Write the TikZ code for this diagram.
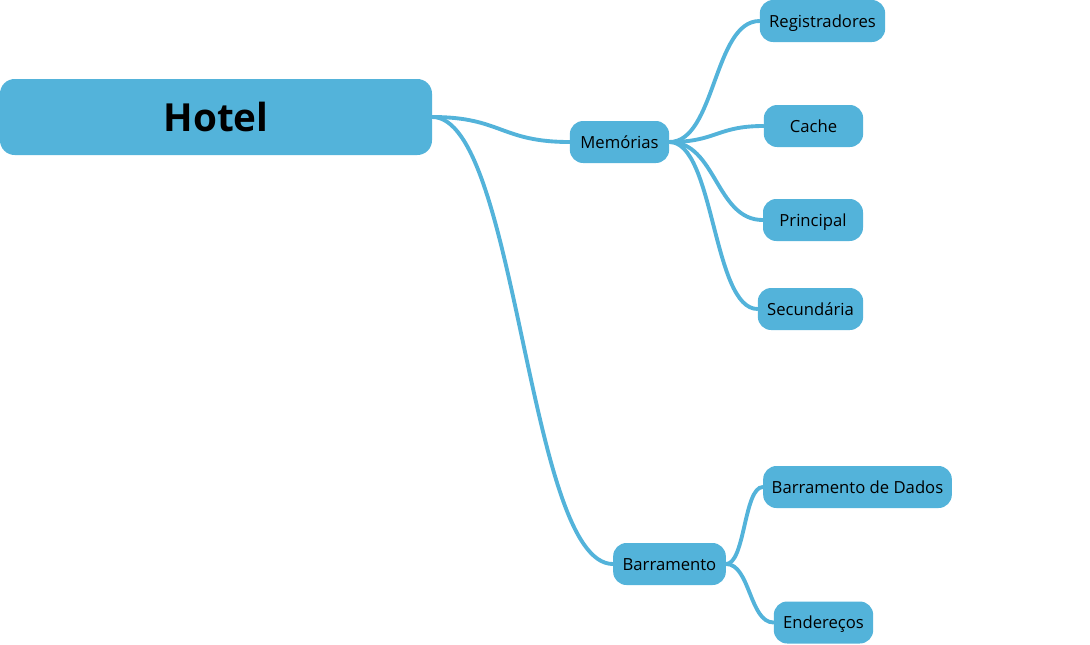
\documentclass[tikz,border=0pt]{standalone}
\usepackage{fontspec}
\setmainfont{Open Sans}
\usetikzlibrary{positioning}
\definecolor{topicblue}{HTML}{53B3DA}
\tikzset{
  topic/.style={fill=topicblue,rounded corners=10pt,minimum height=31.5pt,
                inner sep=0pt,text=black,text height=9.3pt,text depth=0pt,
                font=\fontsize{12.5}{14}\selectfont},
  root/.style={topic,rounded corners=11pt,minimum height=57pt,
               text height=22pt,font=\bfseries\fontsize{29}{34}\selectfont},
  link/.style={draw=topicblue,line width=2.9pt,line cap=round}}

\begin{document}
\begin{tikzpicture}[x=0.75pt,y=-0.75pt]
  \useasboundingbox (0,0) rectangle (1090,644);

  % NODES
  \node[root,minimum width=324pt] (hotel) at (216,117) {Hotel};
  \node[topic,minimum width=74.5pt] (mem) at (619.5,142) {Memórias};
  \node[topic,minimum width=94pt] (reg) at (822.5,21) {Registradores};
  \node[topic,minimum width=74.5pt] (cache) at (813.5,126) {Cache};
  \node[topic,minimum width=75pt] (princ) at (813,220) {Principal};
  \node[topic,minimum width=79pt] (sec) at (810.5,309) {Secundária};
  \node[topic,minimum width=84.5pt] (bar) at (669.5,564) {Barramento};
  \node[topic,minimum width=141.5pt] (dados) at (857.5,487) {Barramento de Dados};
  \node[topic,minimum width=74.5pt] (ender) at (823.5,622.5) {Endereços};

  % LINKS
  \draw[link] (hotel.east) .. controls +(69,0) and +(-69,0) .. (mem.west);
  \draw[link] (hotel.east) .. controls +(85,0) and +(-85,0) .. (bar.west);
  \draw[link] (mem.east) .. controls +(46,0) and +(-46,0) .. (reg.west);
  \draw[link] (mem.east) .. controls +(47,0) and +(-47,0) .. (cache.west);
  \draw[link] (mem.east) .. controls +(47,0) and +(-47,0) .. (princ.west);
  \draw[link] (mem.east) .. controls +(45,0) and +(-45,0) .. (sec.west);
  \draw[link] (bar.east) .. controls +(19,0) and +(-19,0) .. (dados.west);
  \draw[link] (bar.east) .. controls +(24,0) and +(-24,0) .. (ender.west);
\end{tikzpicture}
\end{document}
